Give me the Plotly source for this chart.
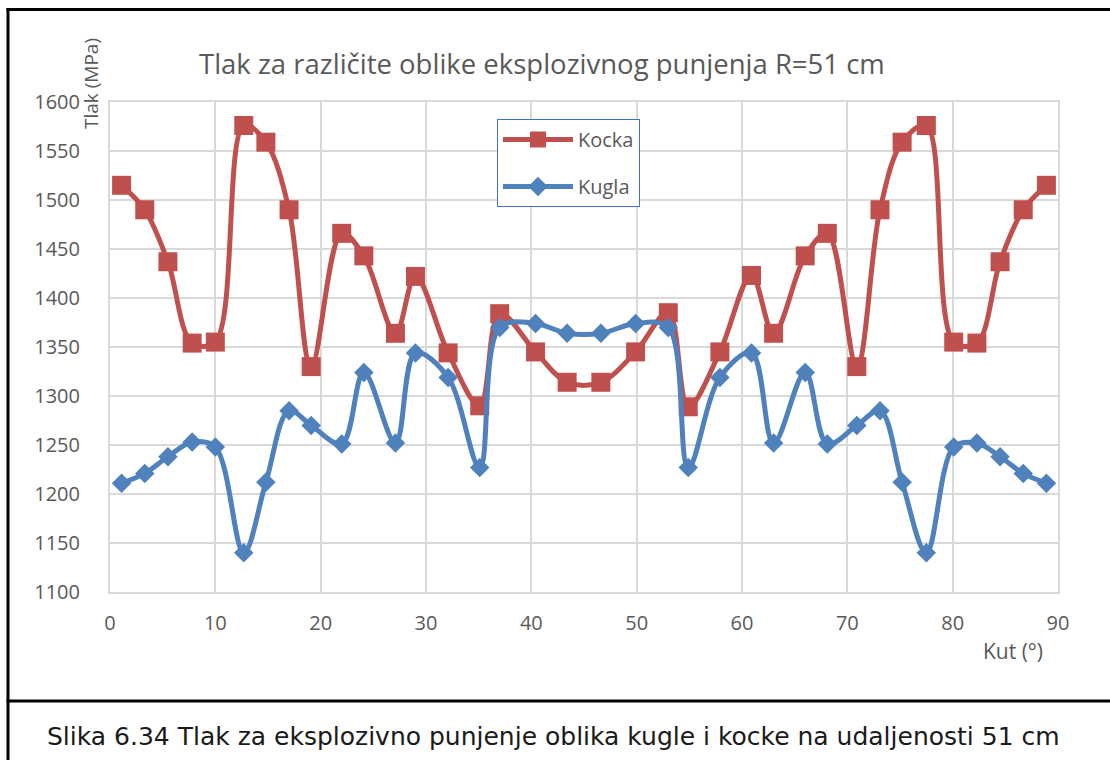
import plotly.graph_objects as go

# Angle of each measurement point (degrees)
kut_kocka = [1.1, 3.3, 5.5, 7.8, 10.0, 12.7, 14.8, 17.0, 19.1, 22.0, 24.1, 27.1,
             29.0, 32.1, 35.1, 37.0, 40.4, 43.4, 46.6, 49.9, 53.0, 54.9, 57.9, 60.9,
             63.0, 66.0, 68.1, 70.9, 73.1, 75.2, 77.5, 80.1, 82.3, 84.5, 86.7, 88.9]
kut_kugla = kut_kocka

# Pressure (MPa) for the cube-shaped charge
tlak_kocka = [1515, 1490, 1437, 1354, 1355, 1576, 1559, 1490, 1330, 1466, 1443, 1364,
              1422, 1344, 1290, 1384, 1345, 1314, 1314, 1345, 1385, 1289, 1345, 1423,
              1364, 1443, 1466, 1330, 1490, 1559, 1576, 1355, 1354, 1437, 1490, 1515]

# Pressure (MPa) for the sphere-shaped charge
tlak_kugla = [1211, 1221, 1238, 1253, 1248, 1140, 1212, 1285, 1270, 1251, 1324, 1252,
              1344, 1319, 1227, 1370, 1374, 1364, 1364, 1374, 1370, 1227, 1319, 1344,
              1252, 1324, 1251, 1270, 1285, 1212, 1140, 1248, 1252, 1238, 1221, 1211]

y_ticks = [1100, 1150, 1200, 1250, 1300, 1350, 1400, 1450, 1500, 1550, 1600]
x_ticks = [0, 10, 20, 30, 40, 50, 60, 70, 80, 90]

W, H = 1110, 760
L, R, T, B = 110, 1058, 102, 592  # plot area in pixels


def px(x):
    return (x - L) / (R - L)


def py(y):
    return (B - y) / (B - T)


GREY = "#595959"
FONT = "Open Sans"

fig = go.Figure()
fig.add_trace(go.Scatter(
    x=kut_kocka, y=tlak_kocka, name="Kocka", mode="lines+markers",
    line=dict(color="#c0504d", width=5, shape="spline", smoothing=1.0),
    marker=dict(symbol="square", size=19, color="#c0504d"),
    legendgroup="a",
))
fig.add_trace(go.Scatter(
    x=kut_kugla, y=tlak_kugla, name="Kugla", mode="lines+markers",
    line=dict(color="#4f81bd", width=5, shape="spline", smoothing=1.0),
    marker=dict(symbol="diamond", size=15, color="#4f81bd"),
    legendgroup="b",
))

axis_common = dict(
    showgrid=True, gridcolor="#d9d9d9", gridwidth=2,
    showline=True, linecolor="#d9d9d9", linewidth=2, mirror=True,
    zeroline=False, ticks="outside", tickcolor="rgba(0,0,0,0)",
    tickfont=dict(family=FONT, size=20, color=GREY),
)

fig.update_xaxes(range=[0, 90], tickvals=x_ticks, ticklen=12, **axis_common)
fig.update_yaxes(range=[1100, 1600], tickvals=y_ticks, ticklen=24, **axis_common)

shapes = [
    # outer frame and caption divider
    dict(type="line", xref="paper", yref="paper", x0=px(8), x1=px(8), y0=py(8), y1=py(762),
         line=dict(color="black", width=3)),
    dict(type="line", xref="paper", yref="paper", x0=px(6.5), x1=px(1112), y0=py(9.5), y1=py(9.5),
         line=dict(color="black", width=3)),
    dict(type="line", xref="paper", yref="paper", x0=px(6.5), x1=px(1112), y0=py(701), y1=py(701),
         line=dict(color="black", width=3)),
]

annotations = [
    dict(text="Tlak za različite oblike eksplozivnog punjenja R=51 cm", xref="paper", yref="paper",
         x=px(542), y=py(64), showarrow=False, xanchor="center", yanchor="middle",
         font=dict(family=FONT, size=27.5, color=GREY)),
    dict(text="Tlak (MPa)", xref="paper", yref="paper", x=px(91), y=py(84), textangle=-90,
         showarrow=False, xanchor="center", yanchor="middle",
         font=dict(family=FONT, size=19, color=GREY)),
    dict(text="Kut (°)", xref="paper", yref="paper", x=px(1013), y=py(651),
         showarrow=False, xanchor="center", yanchor="middle",
         font=dict(family=FONT, size=21, color=GREY)),
    dict(text="Slika 6.34 Tlak za eksplozivno punjenje oblika kugle i kocke na udaljenosti 51 cm",
         xref="paper", yref="paper", x=px(553), y=py(736), showarrow=False,
         xanchor="center", yanchor="middle",
         font=dict(family="DejaVu Sans", size=25, color="#1a1a1a")),
]

fig.update_layout(
    width=W, height=H,
    margin=dict(l=L, r=W - R, t=T, b=H - B, autoexpand=False),
    paper_bgcolor="white", plot_bgcolor="white",
    showlegend=True,
    legend=dict(
        x=px(497), y=py(119), xanchor="left", yanchor="top",
        bgcolor="white", bordercolor="#4472c4", borderwidth=1,
        font=dict(family=FONT, size=20, color=GREY),
        traceorder="grouped", tracegroupgap=18, itemwidth=70,
    ),
    shapes=shapes,
    annotations=annotations,
)

fig.write_html("out.html")
